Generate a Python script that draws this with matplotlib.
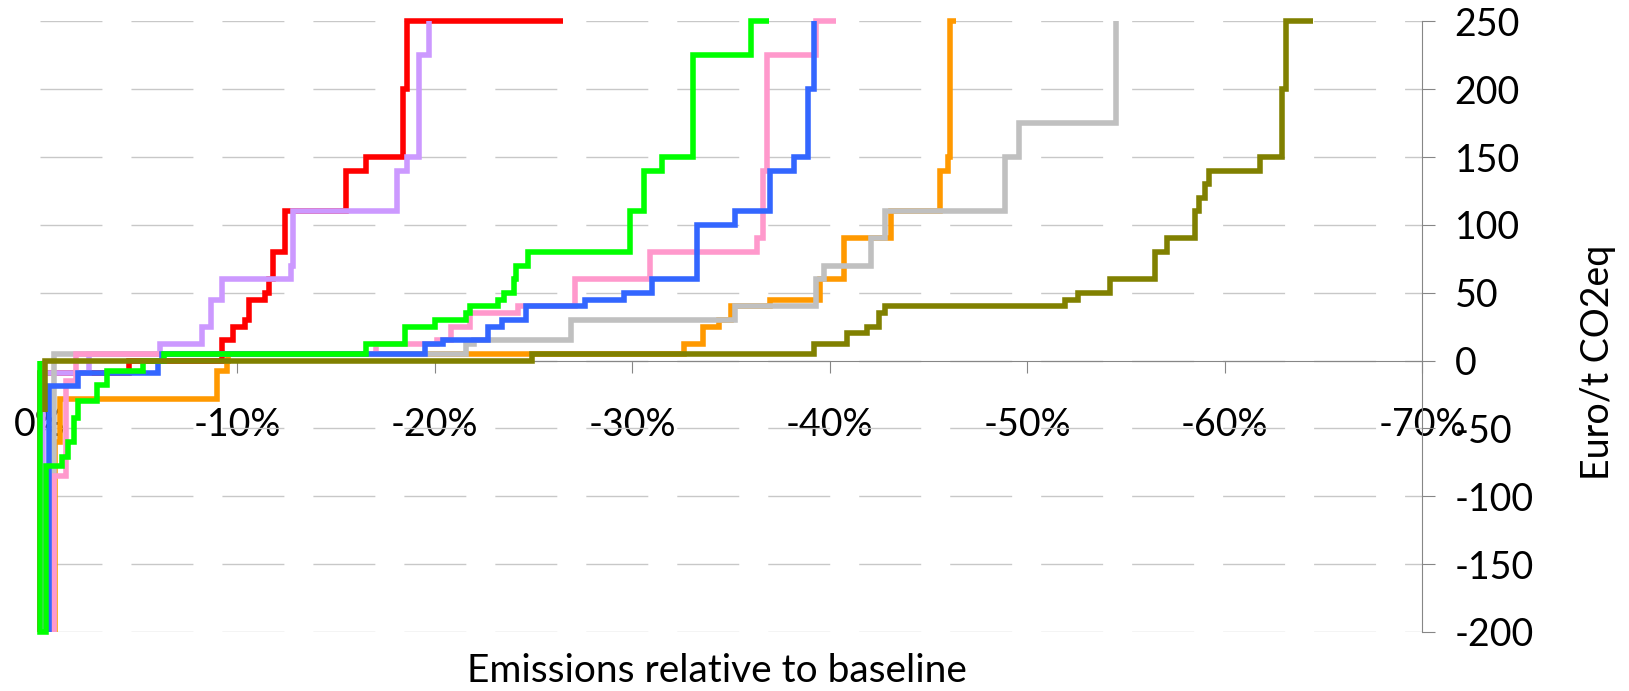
import matplotlib
matplotlib.use("Agg")
import matplotlib.pyplot as plt

plt.rcParams['font.family'] = ['Lato', 'DejaVu Sans']

# step curves: emission change (% vs baseline) reached at each carbon price (Euro/t CO2eq)
red_x = [0, -4.5, -9.2, -9.8, -10.4, -10.6, -11.4, -11.6, -11.8, -12.4, -15.5, -16.5, -18.4, -18.6, -26.5]
red_y = [-200, -9, 0, 15, 25, 30, 45, 50, 60, 80, 110, 140, 150, 200, 250]

lavender_x = [-0.15, -2.5, -6.1, -8.2, -8.65, -9.2, -12.7, -12.8, -18.1, -18.6, -19.2, -19.7, -19.7]
lavender_y = [-200, -9, 5, 12, 25, 45, 60, 70, 110, 140, 150, 225, 250]

orange_x = [-0.75, -1.0, -8.95, -9.45, -9.5, -32.6, -33.6, -34.4, -35.0, -37.0, -39.5, -40.7, -43.1, -45.6, -46.0, -46.1, -46.4]
orange_y = [-200, -60, -28, -8, 0, 5, 12, 25, 30, 40, 45, 60, 90, 110, 140, 150, 250]

gray_x = [-0.7, -21.6, -22.0, -26.9, -35.2, -39.3, -39.7, -42.1, -42.8, -48.9, -49.6, -54.5, -54.5]
gray_y = [-200, 5, 12, 15, 30, 40, 60, 70, 90, 110, 150, 175, 250]

pink_x = [-0.7, -1.3, -1.8, -17.0, -20.1, -20.8, -21.8, -24.2, -27.1, -30.9, -36.3, -36.6, -36.8, -39.3, -40.3]
pink_y = [-200, -85, -15, 5, 12, 15, 25, 35, 40, 60, 80, 90, 140, 225, 250]

blue_x = [-0.45, -1.9, -6.0, -6.2, -19.5, -20.4, -22.7, -23.4, -24.6, -27.6, -29.6, -31.0, -33.3, -35.2, -37.0, -38.2, -38.9, -39.2, -39.2]
blue_y = [-200, -19, -9, 0, 5, 12, 15, 25, 30, 40, 45, 50, 60, 100, 110, 140, 150, 200, 250]

green_x = [0, 0, -0.3, -1.1, -1.4, -1.7, -1.9, -2.9, -3.4, -5.2, -6.3, -16.5, -18.5, -20.0,
           -21.6, -21.8, -23.2, -23.5, -24.0, -24.1, -24.7, -29.9, -30.6, -31.5, -33.1, -36.0, -36.9]
green_y = [0, -200, -200, -78, -71, -60, -42, -30, -18, -8, 0, 5, 12, 25,
           30, 35, 40, 45, 50, 60, 70, 80, 110, 140, 150, 225, 250]

olive_x = [-0.25, -24.9, -39.2, -40.9, -41.9, -42.5, -42.8, -51.9, -52.6, -54.2, -56.5, -57.1,
           -58.5, -58.7, -59.0, -59.2, -61.8, -62.9, -63.1, -64.5]
olive_y = [-38, 0, 5, 12, 20, 25, 35, 40, 45, 50, 60, 80,
           90, 110, 120, 130, 140, 150, 200, 250]

x_ticks = [0, -10, -20, -30, -40, -50, -60, -70]
x_labels = ['0%', '-10%', '-20%', '-30%', '-40%', '-50%', '-60%', '-70%']
y_ticks = [-200, -150, -100, -50, 0, 50, 100, 150, 200, 250]
y_labels = ['-200', '-150', '-100', '-50', '0', '50', '100', '150', '200', '250']

series = [
    (red_x, red_y, '#FF0000'),
    (lavender_x, lavender_y, '#CC99FF'),
    (orange_x, orange_y, '#FF9900'),
    (gray_x, gray_y, '#C0C0C0'),
    (pink_x, pink_y, '#FF99CC'),
    (blue_x, blue_y, '#3366FF'),
    (green_x, green_y, '#00FF00'),
    (olive_x, olive_y, '#808000'),
]

W, H = 1629, 691
fig = plt.figure(figsize=(W / 100, H / 100), dpi=100)
ax = fig.add_axes([40 / W, 1 - 632 / H, 1382 / W, 610.7 / H])

for i, (xs, ys, c) in enumerate(series):
    ax.plot(xs, ys, drawstyle='steps-pre', color=c, lw=4.0,
            solid_joinstyle='miter', solid_capstyle='butt',
            clip_on=False, zorder=3 + i)

ax.set_xlim(0, -70)
ax.set_ylim(-200, 250)

axis_col = '#868686'
ax.spines['top'].set_visible(False)
ax.spines['left'].set_visible(False)
ax.spines['bottom'].set_position(('data', 0))
ax.spines['bottom'].set_color(axis_col)
ax.spines['bottom'].set_linewidth(0.8)
ax.spines['bottom'].set_zorder(2)
ax.spines['right'].set_color(axis_col)
ax.spines['right'].set_linewidth(0.8)

ax.yaxis.tick_right()
ax.set_xticks(x_ticks)
ax.set_xticklabels(x_labels)
ax.set_yticks(y_ticks)
ax.set_yticklabels(y_labels)
ax.tick_params(axis='x', direction='out', length=8.6, width=0.8, color=axis_col,
               pad=25, labelsize=27, labelcolor='black')
ax.tick_params(axis='y', direction='out', length=9.4, width=0.8, color=axis_col,
               pad=14, labelsize=27, labelcolor='black')

ax.yaxis.grid(True, color='#C8C8C8', lw=1.0, linestyle=(0, (44.6, 20.9)))
ax.set_axisbelow(True)

fig.text(717 / W, 1.5 / H, 'Emissions relative to baseline', ha='center', va='bottom', fontsize=28)
fig.text(1598 / W, 1 - 362 / H, 'Euro/t CO2eq', rotation=90, ha='center', va='center', fontsize=27)

fig.savefig('out.png', dpi=100)
